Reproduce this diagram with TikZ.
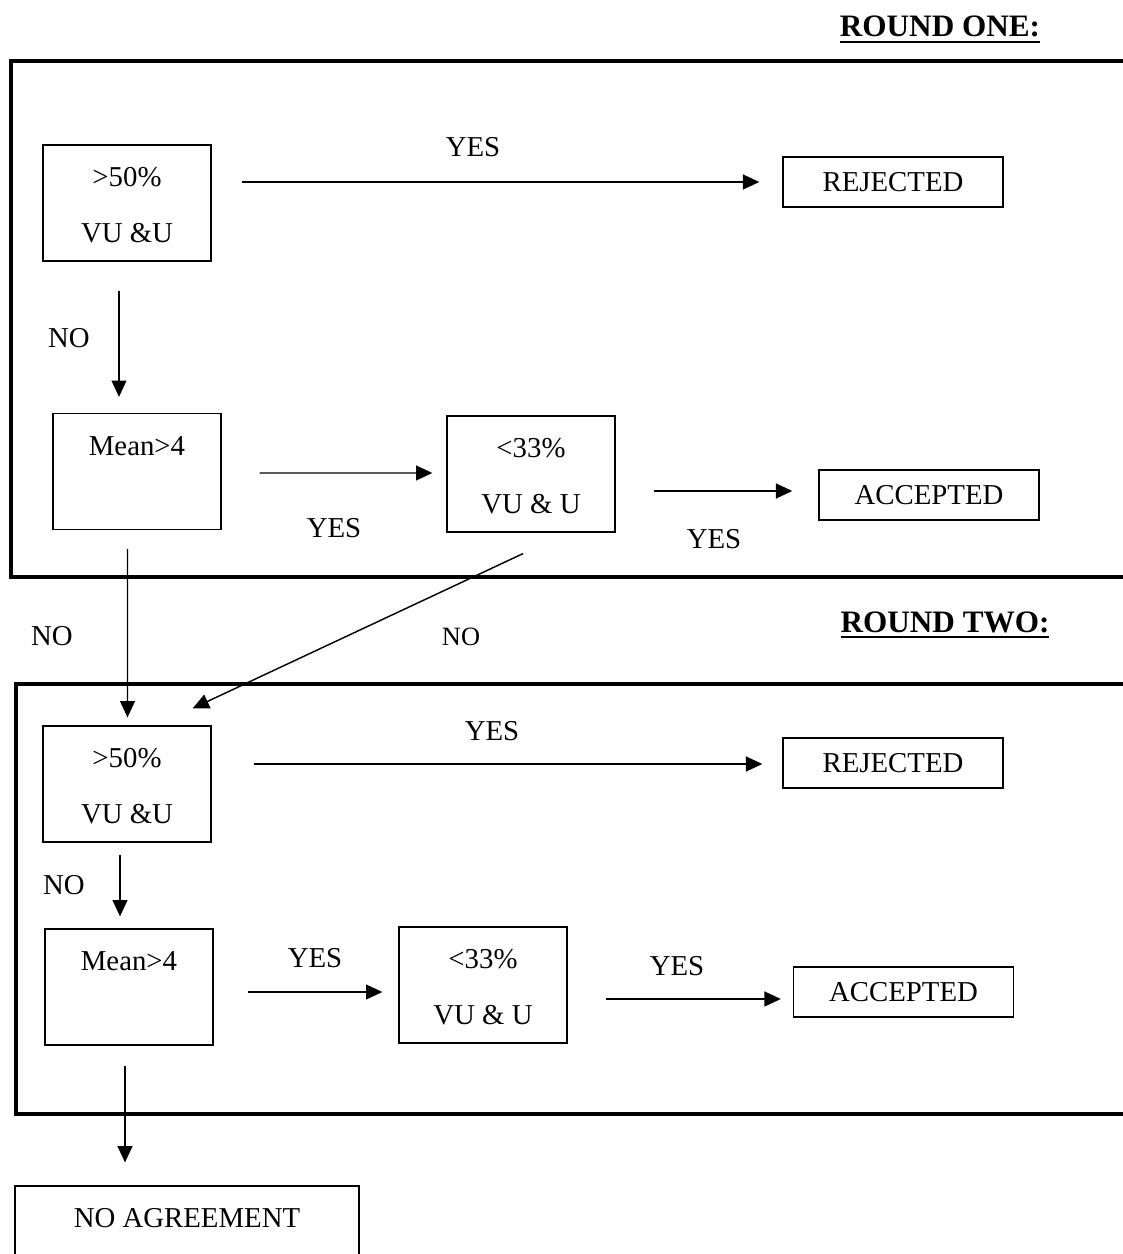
\documentclass[tikz,border=0pt]{standalone}
\usepackage{fontspec}
\setmainfont{Liberation Serif}
\usetikzlibrary{arrows.meta,calc}
% heavy underline for the round headings
\newcommand\heavyul[1]{\setbox0\hbox{#1}\rlap{\rule[-2.6pt]{\wd0}{1pt}}\box0}
% two text lines set apart inside a decision box
\newcommand\twolines[2]{\rule{0pt}{14.3pt}#1\\[8.8pt]\strut#2}

\begin{document}
\begin{tikzpicture}[x=0.41667pt,y=-0.41667pt,
  font=\fontsize{12}{14.5}\selectfont,
  frame/.style={line width=1.3pt},
  flowbox/.style={draw,line width=0.55pt,inner sep=0pt,align=center},
  tallbox/.style={flowbox,minimum width=70pt,minimum height=48.3pt},
  widebox/.style={flowbox,minimum width=91.7pt,minimum height=20.8pt},
  arr/.style={line width=0.6pt,-{Triangle[length=6.8pt,width=6.2pt]}},
  heading/.style={font=\fontsize{13}{15}\selectfont\bfseries,anchor=base,inner sep=0pt},
  lbl/.style={inner sep=0pt}]
\useasboundingbox (0,0) rectangle (1123,1254);

% ---------------- round one ----------------
\node[heading] (T1) at (940,37) {\heavyul{ROUND ONE:}};
\draw[frame] (11,61) rectangle (1140,577);

\node[tallbox] (A1) at (127,203) {\twolines{>50\%}{VU \&U}};
\node[widebox] (R1) at (893,182) {REJECTED};
\node[tallbox] (B1) at (137,471.5) {\twolines{Mean>4}{}};
\node[tallbox] (C1) at (531,474) {\twolines{<33\%}{VU \& U}};
\node[widebox] (AC1) at (929,495) {ACCEPTED};

\draw[arr] ($(A1.east |- R1.west)+(30,0)$) -- ($(R1.west)+(-23,0)$);
\draw[arr] ($(A1.south)+(-8,29)$) -- ($(B1.north)+(-18,-16)$);
\draw[arr] ($(B1.east)+(38,1.5)$) -- ($(C1.west)+(-14,-1)$);
\draw[arr] ($(C1.east)+(38,17)$) -- ($(AC1.west)+(-26,-4)$);

\node[lbl] (y1) at (473,147) {YES};
\node[lbl] (n1) at (69,338) {NO};
\node[lbl] (y2) at (334,528) {YES};
\node[lbl] (y3) at (714,539) {YES};

% ---------------- round two ----------------
\node[heading] (T2) at (945,632) {\heavyul{ROUND TWO:}};
\draw[frame] (16,684) rectangle (1140,1114);

\node[tallbox] (A2) at (127,784) {\twolines{>50\%}{VU \&U}};
\node[widebox] (R2) at (893,763) {REJECTED};
\node[tallbox] (B2) at (129,987) {\twolines{Mean>4}{}};
\node[tallbox] (C2) at (483,985) {\twolines{<33\%}{VU \& U}};
\node[widebox] (AC2) at (903.5,992) {ACCEPTED};
\node[flowbox,minimum width=143.3pt,minimum height=48.3pt] (NA) at (187,1244)
  {\twolines{NO AGREEMENT}{}};

% links from round one into round two
\draw[arr] ($(B1.south)+(-9.5,19)$) -- ($(A2.north)+(0.5,-8)$);
\draw[arr] ($(C1.south)+(-8,21)$) -- ($(A2.north east)+(-19,-17)$);
\node[lbl] (n2) at (52,636) {NO};
\node[lbl,font=\fontsize{11}{13}\selectfont] (n3) at (461,637) {NO};

\draw[arr] ($(A2.east)+(42,-20)$) -- ($(R2.west)+(-20,1)$);
\draw[arr] ($(A2.south)+(-7,12)$) -- ($(B2.north)+(-9,-12)$);
\draw[arr] ($(B2.east)+(34,5)$) -- ($(C2.west)+(-16,7)$);
\draw[arr] ($(C2.east)+(38,14)$) -- ($(AC2.west)+(-12,7)$);
\draw[arr] ($(B2.south)+(-4,20)$) -- ($(NA.north)+(-62,-23)$);

\node[lbl] (y4) at (492,731) {YES};
\node[lbl] (n4) at (64,885) {NO};
\node[lbl] (y5) at (315,958) {YES};
\node[lbl] (y6) at (677,966) {YES};
\end{tikzpicture}
\end{document}
